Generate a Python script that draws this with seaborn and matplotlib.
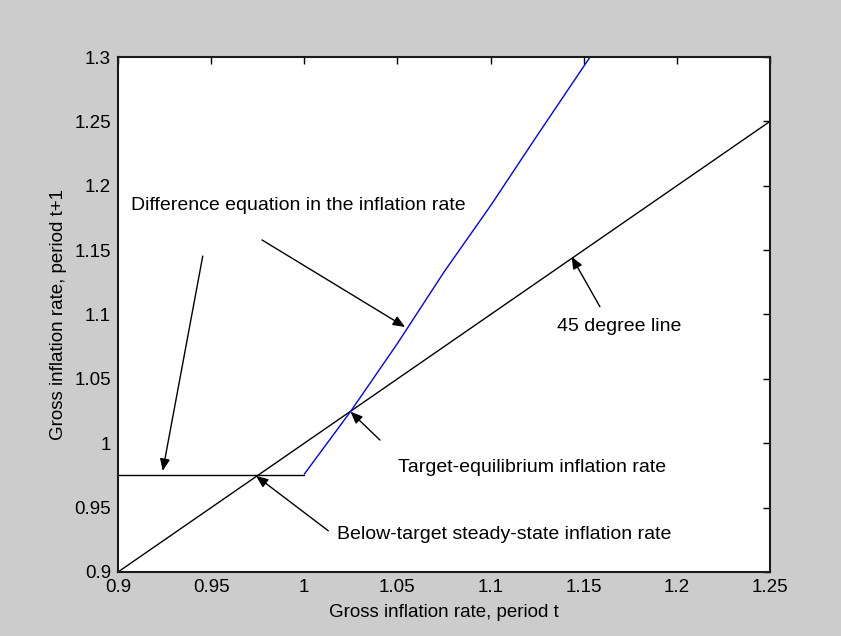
import matplotlib
matplotlib.use("Agg")
import matplotlib.pyplot as plt
import seaborn as sns
import pandas as pd

# ---- data ----
diff_x = [1.0, 1.025, 1.05, 1.075, 1.1, 1.125, 1.1534]
diff_y = [0.976, 1.025, 1.0775, 1.133, 1.1845, 1.239, 1.3]
flat_x = [0.9, 1.0]
flat_y = [0.975, 0.975]
diag_x = [0.9, 1.25]
diag_y = [0.9, 1.25]

x_ticks = [0.9, 0.95, 1.0, 1.05, 1.1, 1.15, 1.2, 1.25]
x_tick_labels = ["0.9", "0.95", "1", "1.05", "1.1", "1.15", "1.2", "1.25"]
y_ticks = [0.9, 0.95, 1.0, 1.05, 1.1, 1.15, 1.2, 1.25, 1.3]
y_tick_labels = ["0.9", "0.95", "1", "1.05", "1.1", "1.15", "1.2", "1.25", "1.3"]

x_label = "Gross inflation rate, period t"
y_label = "Gross inflation rate, period t+1"

# annotations: (text, text_x, text_y)
texts = [
    ("Difference equation in the inflation rate", 0.907, 1.185),
    ("45 degree line", 1.1357, 1.0903),
    ("Target-equilibrium inflation rate", 1.0503, 0.9808),
    ("Below-target steady-state inflation rate", 1.0174, 0.9295),
]
# arrows: (tail_x, tail_y, head_x, head_y)
arrows = [
    (0.9773, 1.1579, 1.0541, 1.0903),
    (0.9455, 1.1454, 0.9240, 0.9785),
    (1.1587, 1.1060, 1.1435, 1.1449),
    (1.0406, 1.0025, 1.0248, 1.0245),
    (1.0129, 0.9320, 0.9741, 0.9746),
]

# ---- style ----
sns.set_style("white")
plt.rcParams["font.family"] = ["Liberation Sans", "DejaVu Sans"]
plt.rcParams["text.color"] = "black"
plt.rcParams["axes.labelcolor"] = "black"

fig = plt.figure(figsize=(8.41, 6.36), dpi=100, facecolor="#cccccc")
ax = fig.add_axes([118 / 841, 1 - 572 / 636, 652 / 841, 515 / 636])
ax.set_facecolor("white")

df_diag = pd.DataFrame({"x": diag_x, "y": diag_y})
df_flat = pd.DataFrame({"x": flat_x, "y": flat_y})
df_diff = pd.DataFrame({"x": diff_x, "y": diff_y})

sns.lineplot(data=df_diag, x="x", y="y", ax=ax, color="black", lw=1.0, sort=False)
sns.lineplot(data=df_flat, x="x", y="y", ax=ax, color="black", lw=1.0, sort=False)
sns.lineplot(data=df_diff, x="x", y="y", ax=ax, color="blue", lw=1.0, sort=False)

ax.set_xlim(0.9, 1.25)
ax.set_ylim(0.9, 1.3)
ax.set_xticks(x_ticks)
ax.set_xticklabels(x_tick_labels)
ax.set_yticks(y_ticks)
ax.set_yticklabels(y_tick_labels)

ax.tick_params(direction="in", length=5, width=1, colors="black",
               top=True, right=True, labelsize=13.5, pad=5)
for s in ax.spines.values():
    s.set_color("#1a1a1a")
    s.set_linewidth(1.5)
    s.set_visible(True)

ax.set_xlabel(x_label, fontsize=13.5, labelpad=6, color="black")
ax.set_ylabel(y_label, fontsize=13.5, labelpad=5, color="black")

for t, tx, ty in texts:
    ax.text(tx, ty, t, fontsize=14, ha="left", va="center", color="black")

for x0, y0, x1, y1 in arrows:
    ax.annotate("", xy=(x1, y1), xytext=(x0, y0),
                arrowprops=dict(arrowstyle="-|>,head_length=0.6,head_width=0.25",
                                color="black", lw=1.0, mutation_scale=12,
                                shrinkA=0, shrinkB=0))

fig.savefig("out.png", dpi=100, facecolor=fig.get_facecolor())
